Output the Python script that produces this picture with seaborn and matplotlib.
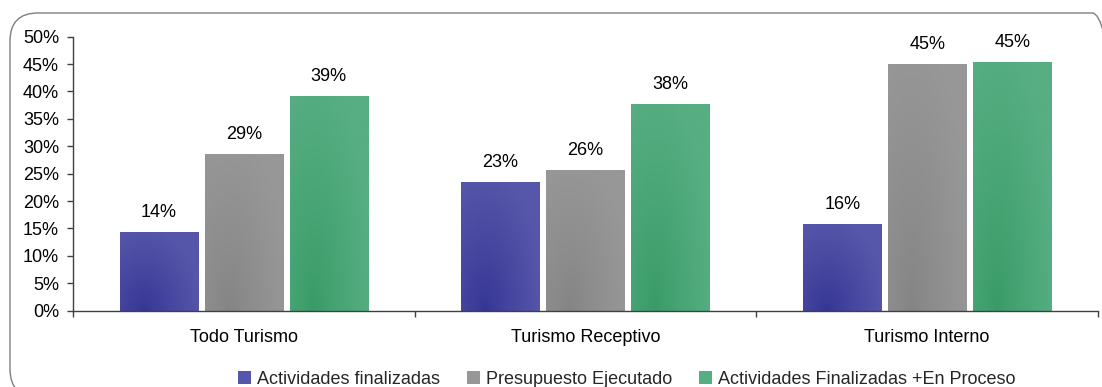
import numpy as np
import pandas as pd
import matplotlib
matplotlib.use("Agg")
import matplotlib.pyplot as plt
import seaborn as sns
from matplotlib.patches import FancyBboxPatch, Patch
from matplotlib.colors import to_rgb
from matplotlib.ticker import PercentFormatter, FixedLocator

# --- data ---------------------------------------------------------------
categorias = ["Todo Turismo", "Turismo Receptivo", "Turismo Interno"]
series = ["Actividades finalizadas", "Presupuesto Ejecutado",
          "Actividades Finalizadas +En Proceso"]
act_finalizadas = [0.143, 0.234, 0.158]
presupuesto_ejecutado = [0.286, 0.257, 0.450]
act_fin_en_proceso = [0.392, 0.377, 0.454]

df = pd.DataFrame({
    "categoria": categorias * 3,
    "serie": np.repeat(series, 3),
    "valor": act_finalizadas + presupuesto_ejecutado + act_fin_en_proceso,
})

# light / dark shades for each series
claros = ["#5656AA", "#979797", "#56AE82"]
oscuros = ["#343494", "#848484", "#389A66"]

sns.set_theme(style="white")
plt.rcParams["font.family"] = ["Liberation Sans", "DejaVu Sans"]

fig = plt.figure(figsize=(11.02, 3.87), dpi=100)
ax = fig.add_axes([73 / 1102, 1 - 310.7 / 387, (1098 - 73) / 1102, (310.7 - 36.7) / 387])

sns.barplot(data=df, x="categoria", y="valor", hue="serie", order=categorias,
            hue_order=series, palette=claros, width=0.746, gap=0.08,
            saturation=1, linewidth=0, ax=ax, legend=False, errorbar=None)

# gradient fill clipped to every bar: darker towards the lower left
gy, gx = np.mgrid[0:1:80j, 0:1:80j]
t = np.clip(np.sqrt(((gx - 0.3) / 0.75) ** 2 + (gy / 1.1) ** 2), 0, 1) ** 0.8
bar_patches = [p for p in ax.patches if p.get_height() > 0]
for i, p in enumerate(bar_patches):
    k = i // 3
    c0 = np.array(to_rgb(oscuros[k]))
    c1 = np.array(to_rgb(claros[k]))
    img = c0[None, None, :] * (1 - t[..., None]) + c1[None, None, :] * t[..., None]
    x0, y0 = p.get_x(), p.get_y()
    w, h = p.get_width(), p.get_height()
    im = ax.imshow(img, extent=[x0, x0 + w, y0, y0 + h], origin="lower",
                   aspect="auto", zorder=p.get_zorder() + 0.1, interpolation="bilinear")
    im.set_clip_path(p)

for cont in ax.containers:
    ax.bar_label(cont, labels=[f"{v * 100:.0f}%" for v in cont.datavalues],
                 padding=8, fontsize=13, color="black")

ax.set_xlim(-0.5, 2.5)
ax.set_ylim(0, 0.5)
ax.set_xlabel("")
ax.set_ylabel("")
ax.yaxis.set_major_locator(FixedLocator(np.arange(0, 0.501, 0.05)))
ax.yaxis.set_major_formatter(PercentFormatter(1.0, decimals=0))
ax.xaxis.set_minor_locator(FixedLocator([-0.5, 0.5, 1.5, 2.5]))
ax.tick_params(axis="x", which="major", length=0, pad=13, labelsize=13, colors="black")
ax.tick_params(axis="x", which="minor", length=4, width=1, color="#404040", bottom=True)
ax.tick_params(axis="y", length=4, width=1, color="#404040", left=True, pad=6,
               labelsize=13, labelcolor="black")
for s in ["top", "right"]:
    ax.spines[s].set_visible(False)
for s in ["left", "bottom"]:
    ax.spines[s].set_color("#404040")
    ax.spines[s].set_linewidth(1)
ax.set_axisbelow(False)

# legend with square markers
handles = [Patch(facecolor=c, edgecolor="none") for c in claros]
fig.legend(handles, series, loc="center", bbox_to_anchor=(627 / 1102, 1 - 379 / 387),
           ncol=3, frameon=False, fontsize=13, handlelength=0.7, handleheight=0.7,
           handletextpad=0.35, columnspacing=1.5, borderaxespad=0)

# rounded outer frame
frame = FancyBboxPatch((0.10, -0.10), 11.1, 3.84,
                       boxstyle="round,pad=0,rounding_size=0.28",
                       transform=fig.dpi_scale_trans, facecolor="none",
                       edgecolor="#7f7f7f", linewidth=1.0, zorder=-1)
fig.patches.append(frame)

fig.savefig("out.png", dpi=100)
